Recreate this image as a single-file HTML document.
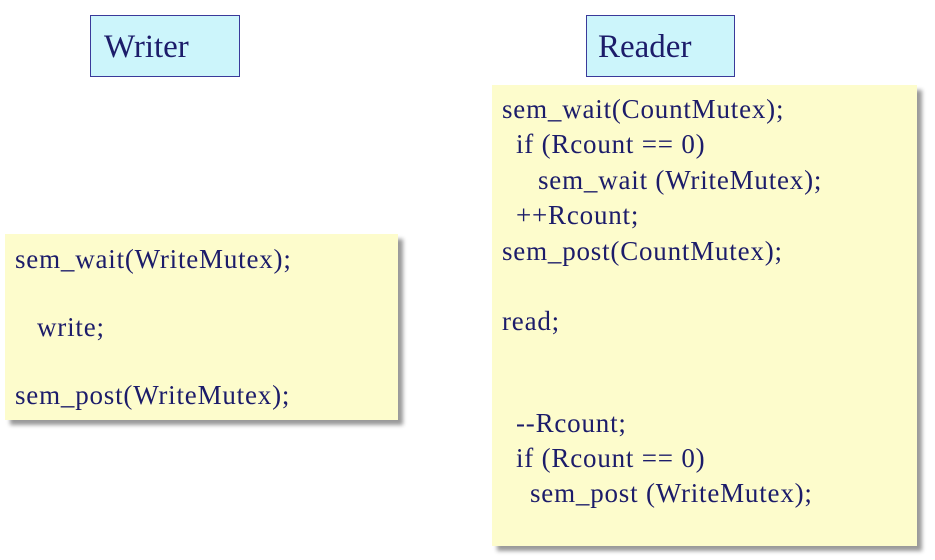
<!DOCTYPE html>
<html><head><meta charset="utf-8"><style>
body{margin:0;width:935px;height:560px;background:#fff;position:relative;overflow:hidden;font-family:"Liberation Serif",serif;color:#1c1c6a}
.t{position:absolute;font-size:27px;line-height:27px;letter-spacing:0.8px;white-space:pre}
.lab{position:absolute;background:#ccf5fb;border:1.5px solid #3a3a9a;box-sizing:border-box}
.lab span{position:absolute;font-size:33px;line-height:33px}
.box{position:absolute;background:#fdfccc;box-shadow:5px 5px 4px #9a9a9a}
</style></head><body>
<div class="lab" style="left:90px;top:15px;width:150px;height:62px"><span style="left:13px;top:15px">Writer</span></div>
<div class="lab" style="left:586px;top:15px;width:149px;height:62px"><span style="left:11px;top:15px">Reader</span></div>
<div class="box" style="left:5px;top:234px;width:393px;height:186px"></div>
<div class="t" style="left:15px;top:246px">sem_wait(WriteMutex);</div>
<div class="t" style="left:37px;top:314px">write;</div>
<div class="t" style="left:15px;top:382px">sem_post(WriteMutex);</div>
<div class="box" style="left:492px;top:85px;width:425px;height:461px"></div>
<div class="t" style="left:502px;top:96px">sem_wait(CountMutex);</div>
<div class="t" style="left:516px;top:131px">if (Rcount == 0)</div>
<div class="t" style="left:538px;top:167px">sem_wait (WriteMutex);</div>
<div class="t" style="left:516px;top:202px">++Rcount;</div>
<div class="t" style="left:502px;top:238px">sem_post(CountMutex);</div>
<div class="t" style="left:502px;top:308px">read;</div>
<div class="t" style="left:516px;top:410px">--Rcount;</div>
<div class="t" style="left:516px;top:445px">if (Rcount == 0)</div>
<div class="t" style="left:530px;top:480px">sem_post (WriteMutex);</div>
</body></html>
